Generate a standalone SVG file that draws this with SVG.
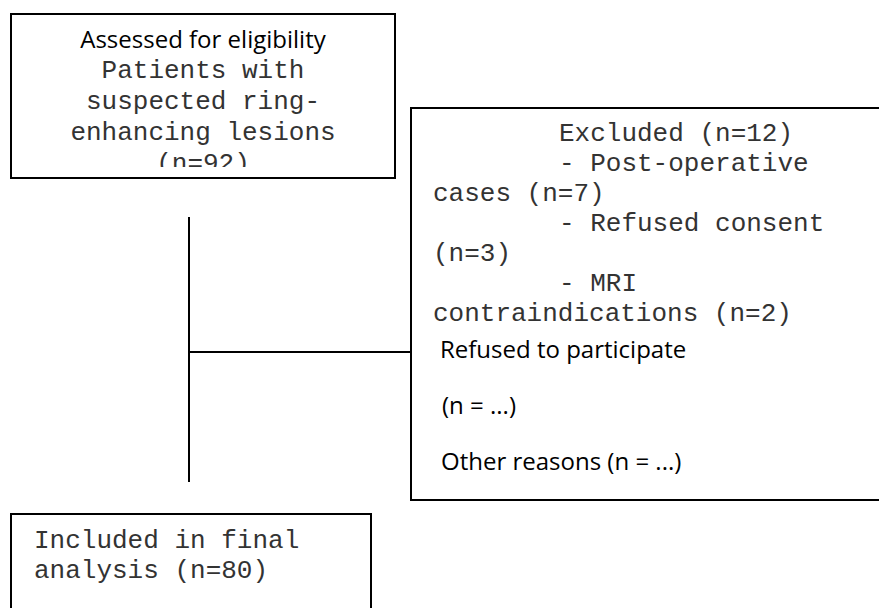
<svg xmlns="http://www.w3.org/2000/svg" width="879" height="608" viewBox="0 0 879 608">
  <style>
    .box { fill: #ffffff; stroke: #000000; stroke-width: 2; }
    .mono { font-family: "Liberation Mono", "Courier New", monospace; font-size: 26px; fill: #333333; }
    .sans { font-family: "Open Sans", "Liberation Sans", sans-serif; font-size: 24px; fill: #000000; }
    .conn { stroke: #000000; stroke-width: 2; fill: none; }
  </style>
  <defs>
    <clipPath id="clipTop"><rect x="11" y="14" width="384" height="153"/></clipPath>
  </defs>
  <rect width="879" height="608" fill="#ffffff"/>

  <g id="connectors">
    <line class="conn" x1="189" y1="217" x2="189" y2="482"/>
    <line class="conn" x1="189" y1="352" x2="411" y2="352"/>
  </g>

  <g id="node-assessed">
    <rect class="box" x="11" y="14" width="384" height="164"/>
    <g clip-path="url(#clipTop)">
      <text class="sans" x="203" y="48" text-anchor="middle">Assessed for eligibility</text>
      <text class="mono" x="203" y="78" text-anchor="middle">Patients with</text>
      <text class="mono" x="203" y="109" text-anchor="middle">suspected ring-</text>
      <text class="mono" x="203" y="140" text-anchor="middle">enhancing lesions</text>
      <text class="mono" x="203" y="171" text-anchor="middle">(n=92)</text>
    </g>
  </g>

  <g id="node-excluded">
    <rect class="box" x="411" y="108" width="480" height="392"/>
    <text class="mono" x="559" y="141">Excluded (n=12)</text>
    <text class="mono" x="559" y="171">- Post-operative</text>
    <text class="mono" x="433" y="201">cases (n=7)</text>
    <text class="mono" x="559" y="231">- Refused consent</text>
    <text class="mono" x="433" y="261">(n=3)</text>
    <text class="mono" x="559" y="291">- MRI</text>
    <text class="mono" x="433" y="321">contraindications (n=2)</text>
    <text class="sans" x="440" y="358">Refused to participate</text>
    <text class="sans" x="442" y="414">(n = ...)</text>
    <text class="sans" x="441" y="470">Other reasons (n = ...)</text>
  </g>

  <g id="node-included">
    <rect class="box" x="11" y="514" width="360" height="110"/>
    <text class="mono" x="34" y="548">Included in final</text>
    <text class="mono" x="34" y="578">analysis (n=80)</text>
  </g>
</svg>
